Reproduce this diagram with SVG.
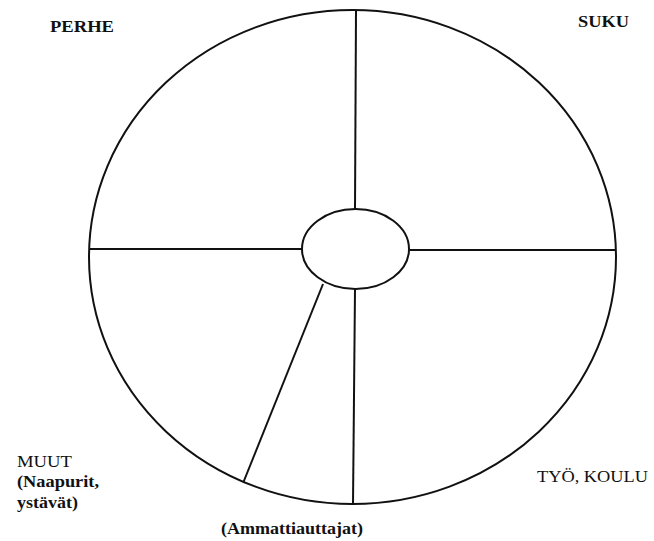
<svg xmlns="http://www.w3.org/2000/svg" width="654" height="541" viewBox="0 0 654 541">
<style>
.ln{stroke:#111;stroke-width:2;fill:none}
text{font-family:'Liberation Serif','DejaVu Serif','Times New Roman',serif;font-size:17.5px;fill:#111}
.b{font-weight:bold}
</style>
<rect width="654" height="541" fill="#fff"/>
<g id="outer"><ellipse class="ln" cx="352.5" cy="257" rx="263.5" ry="247"/></g>
<g id="connectors">
<line class="ln" x1="356" y1="10" x2="355" y2="209"/>
<line class="ln" x1="89" y1="249" x2="302" y2="249"/>
<line class="ln" x1="409" y1="250" x2="616" y2="250"/>
<line class="ln" x1="355" y1="289" x2="353" y2="504"/>
<line class="ln" x1="323" y1="284" x2="243.5" y2="482"/>
</g>
<g id="center"><ellipse class="ln" cx="355.5" cy="249" rx="53.5" ry="40" fill="#fff"/></g>
<g id="perhe"><text class="b" x="50" y="32" textLength="64" lengthAdjust="spacingAndGlyphs">PERHE</text></g>
<g id="suku"><text class="b" x="578" y="27" textLength="51" lengthAdjust="spacingAndGlyphs">SUKU</text></g>
<g id="tyo"><text x="537" y="482" textLength="111" lengthAdjust="spacingAndGlyphs">TYÖ, KOULU</text></g>
<g id="muut"><text x="17" y="467" textLength="55" lengthAdjust="spacingAndGlyphs">MUUT</text><text class="b" x="17" y="487" textLength="82" lengthAdjust="spacingAndGlyphs">(Naapurit,</text><text class="b" x="17" y="508" textLength="61" lengthAdjust="spacingAndGlyphs">ystävät)</text></g>
<g id="ammatti"><text class="b" x="221" y="534" textLength="142" lengthAdjust="spacingAndGlyphs">(Ammattiauttajat)</text></g>
</svg>
